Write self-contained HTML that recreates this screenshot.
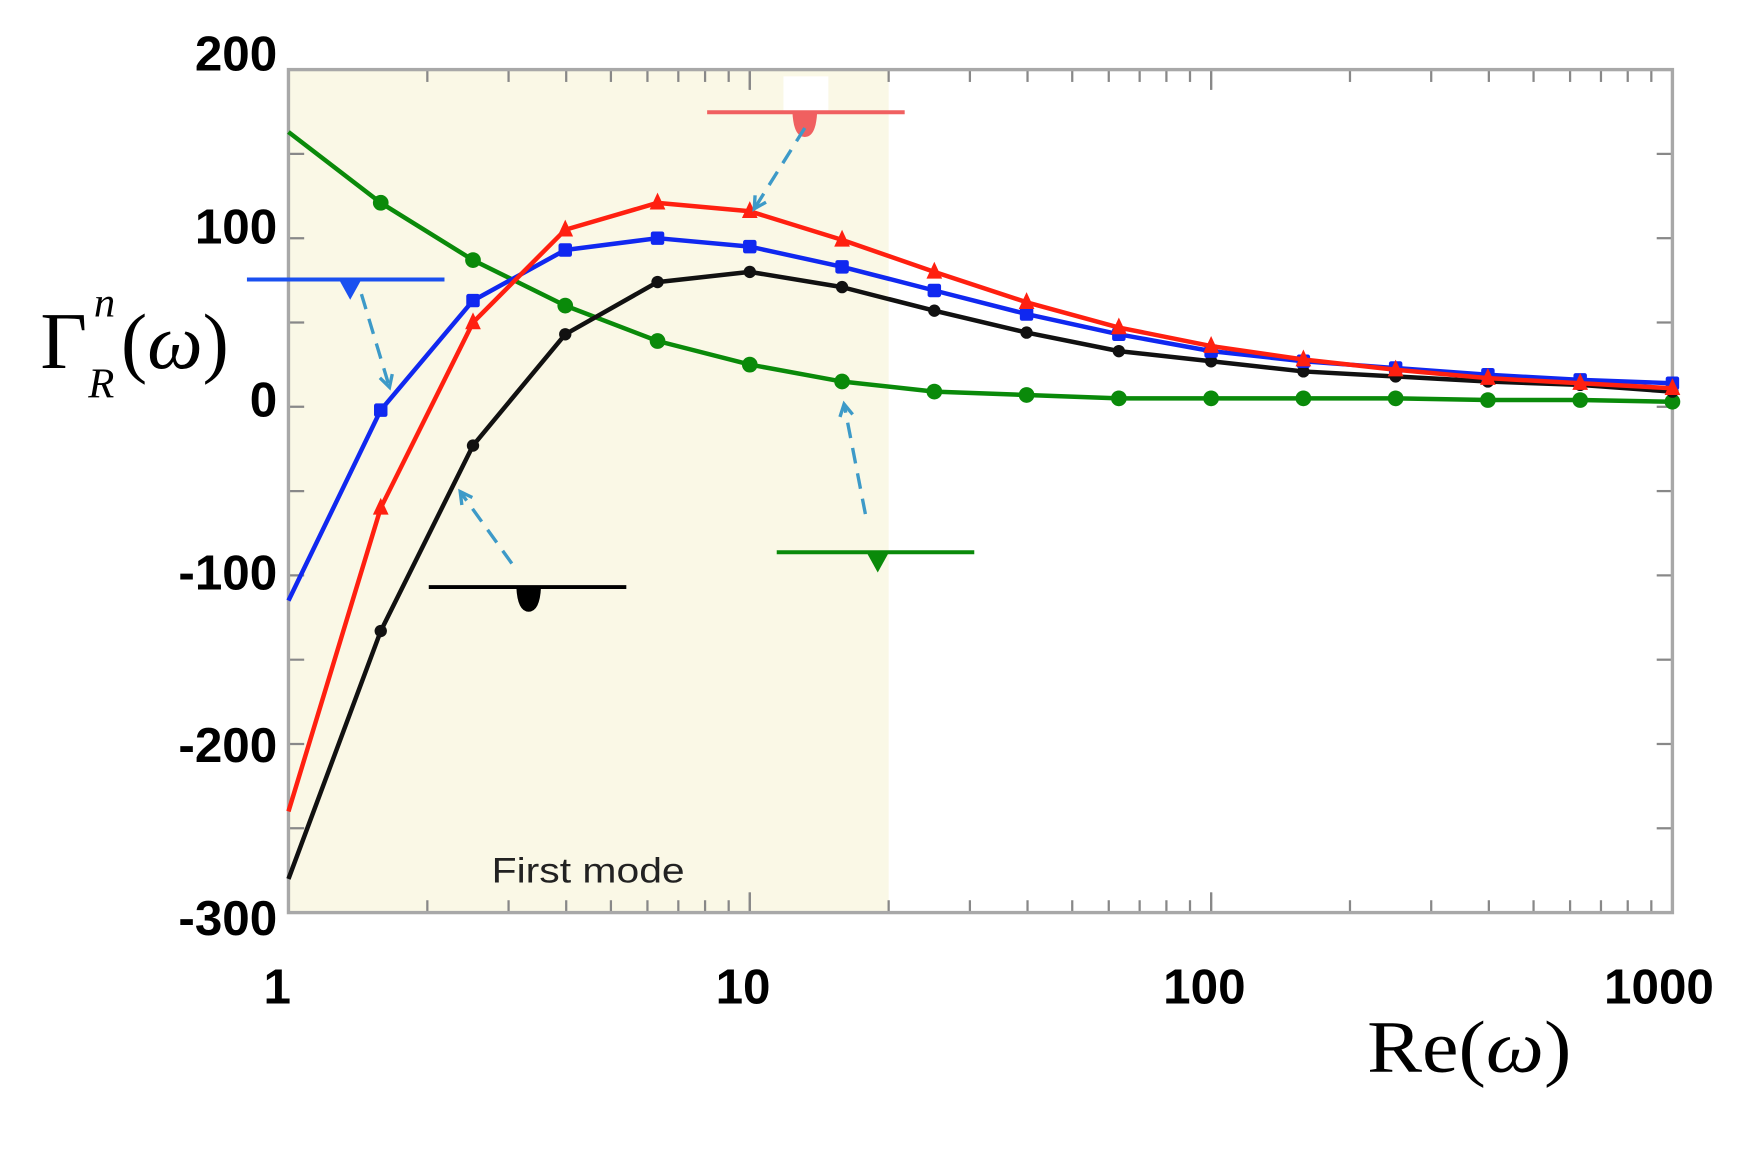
<!DOCTYPE html>
<html><head><meta charset="utf-8"><style>
html,body{margin:0;padding:0;background:#fff;}
svg{display:block;}
</style></head><body>
<svg id="chart" xmlns="http://www.w3.org/2000/svg" width="1751" height="1151" viewBox="0 0 1560 1025.4" preserveAspectRatio="none">
<rect id="shade" fill="#faf8e6"/>
<g id="ticks"></g>
<rect id="frame" fill="none" stroke="#a8a8a8" stroke-width="3"/>
<g id="series"></g>
<g id="labels" font-family="Liberation Sans, sans-serif" font-weight="bold" font-size="44" fill="#000"></g>
<text x="438" y="786" font-family="Liberation Sans, sans-serif" font-size="31" textLength="172" lengthAdjust="spacingAndGlyphs" fill="#222">First mode</text>
<text font-family="Liberation Serif, serif" fill="#000" x="36" y="328" font-size="72">Γ<tspan font-style="italic" font-size="38" dx="6" dy="-46">n</tspan><tspan font-style="italic" font-size="38" dx="-24" dy="72">R</tspan><tspan font-size="70" dx="6" dy="-26">(<tspan font-style="italic">ω</tspan>)</tspan></text>
<text font-family="Liberation Serif, serif" font-size="66" fill="#000" x="1218" y="955" textLength="182" lengthAdjust="spacingAndGlyphs">Re(<tspan font-style="italic">ω</tspan>)</text>
<g id="annot"></g>
</svg>
<script>
const xVals=[1,1.585,2.512,3.981,6.31,10,15.85,25.12,39.81,63.1,100,158.5,251.2,398.1,631,1000];
const greenVals=[163,121,87,60,39,25,15,9,7,5,5,5,5,4,4,3];
const blueVals=[-115,-2,63,93,100,95,83,69,55,43,33,27,23,19,16,14];
const redVals=[-240,-60,50,105,121,116,99,80,62,47,36,28,22,17,14,11];
const blackVals=[-280,-133,-23,43,74,80,71,57,44,33,27,21,18,15,13,9];
const yTicks=[200,100,0,-100,-200,-300];
const xTicks=[1,10,100,1000];
const shadeMax=20;

const L=257,R=1490,T=62,B=813;
const X=v=>L+(Math.log10(v))/3*(R-L);
const Y=v=>T+(200-v)/500*(B-T);
const NS="http://www.w3.org/2000/svg";
function mk(tag,parent,attrs){const e=document.createElementNS(NS,tag);for(const k in attrs)e.setAttribute(k,attrs[k]);parent.appendChild(e);return e;}

const shade=document.getElementById('shade');
shade.setAttribute('x',L);shade.setAttribute('y',T);shade.setAttribute('width',X(shadeMax)-L);shade.setAttribute('height',B-T);
const fr=document.getElementById('frame');
fr.setAttribute('x',L);fr.setAttribute('y',T);fr.setAttribute('width',R-L);fr.setAttribute('height',B-T);

const tk=document.getElementById('ticks');
for(let v=-300;v<=200;v+=50){
  const t1=mk('line',tk,{x1:L,x2:L+14,y1:Y(v),y2:Y(v),stroke:'#888','stroke-width':2});
  
  
  const t2=mk('line',tk,{x1:R-14,x2:R,y1:Y(v),y2:Y(v),stroke:'#888','stroke-width':2});
  
  
}
for(let d=0;d<3;d++)for(let m=1;m<=10;m++){
  const v=Math.pow(10,d)*m;const len=(m===1||m===10)?18:11;
  const a=mk('line',tk,{x1:X(v),x2:X(v),y1:B,y2:B-len,stroke:'#888','stroke-width':2});
  
  
  const b=mk('line',tk,{x1:X(v),x2:X(v),y1:T,y2:T+len,stroke:'#888','stroke-width':2});
  
  
}

const lb=document.getElementById('labels');
yTicks.forEach(v=>{const cy=Y(v)-15+(200-v)/500*19;const t=mk('text',lb,{x:L-10,y:cy+16,'text-anchor':'end'});t.textContent=v;
  
  });
xTicks.forEach(v=>{const t=mk('text',lb,{x:X(v)+(v===1?-10:v===1000?-12:-6),y:894,'text-anchor':'middle'});t.textContent=v;
  
  });

const sg=document.getElementById('series');
function series(vals,color,name,marker){
  const g=mk('g',sg,{});
  
  
  const pts=vals.map((v,i)=>X(xVals[i]).toFixed(1)+','+Y(v).toFixed(1)).join(' ');
  const pl=mk('polyline',g,{points:pts,fill:'none',stroke:color,'stroke-width':4,'stroke-linejoin':'round'});
  
  
  vals.forEach((v,i)=>{
    if(i===0)return;
    const x=X(xVals[i]),y=Y(v);let m;
    if(marker==='tri')m=mk('polygon',g,{points:`${x},${y-9} ${x-7},${y+6} ${x+7},${y+6}`,fill:color});
    else if(marker==='sq')m=mk('rect',g,{x:x-6,y:y-6,width:12,height:12,rx:2,fill:color});
    else m=mk('circle',g,{cx:x,cy:y,r:marker==='small'?5.5:7,fill:color});
    
    
  });
}
series(greenVals,'#0a8a0a','series-green','dot');
series(blackVals,'#111','series-black','small');
series(blueVals,'#1028f0','series-blue','sq');
series(redVals,'#ff2010','series-red','tri');

const an=document.getElementById('annot');
function arrow(x1,y1,x2,y2,name){
  const l=mk('line',an,{x1,y1,x2,y2,stroke:'#3d9ac8','stroke-width':3,'stroke-dasharray':'14,9'});
  
  
  const a=Math.atan2(y2-y1,x2-x1),s=12;
  const p=mk('polyline',an,{points:`${x2-s*Math.cos(a-0.5)},${y2-s*Math.sin(a-0.5)} ${x2},${y2} ${x2-s*Math.cos(a+0.5)},${y2-s*Math.sin(a+0.5)}`,fill:'none',stroke:'#3d9ac8','stroke-width':3});
  
  
}
function level(x1,x2,y,xm,color,name,shape){
  const g=mk('g',an,{});
  
  
  mk('line',g,{x1,x2,y1:y,y2:y,stroke:color,'stroke-width':3.5});
  if(shape==='tri')mk('polygon',g,{points:`${xm-10},${y} ${xm+10},${y} ${xm},${y+18}`,fill:color});
  else mk('path',g,{d:`M${xm-11},${y} L${xm+11},${y} Q${xm+10},${y+22} ${xm},${y+22} Q${xm-10},${y+22} ${xm-11},${y} Z`,fill:color});
}
mk('rect',an,{x:698,y:68,width:40,height:32,fill:'#fff'});
level(630,806,100,717,'#f06060','red-level-marker','drop');
level(220,396,249,312,'#1a50f0','blue-level-marker','tri');
level(382,558,523,471,'#000','black-level-marker','drop');
level(692,868,492,782,'#0a8a0a','green-level-marker','tri');
arrow(717,114,672,186,'red-arrow');
arrow(322,262,347,345,'blue-arrow');
arrow(456,502,410,438,'black-arrow');
arrow(771,458,752,360,'green-arrow');
</script>
</body></html>
